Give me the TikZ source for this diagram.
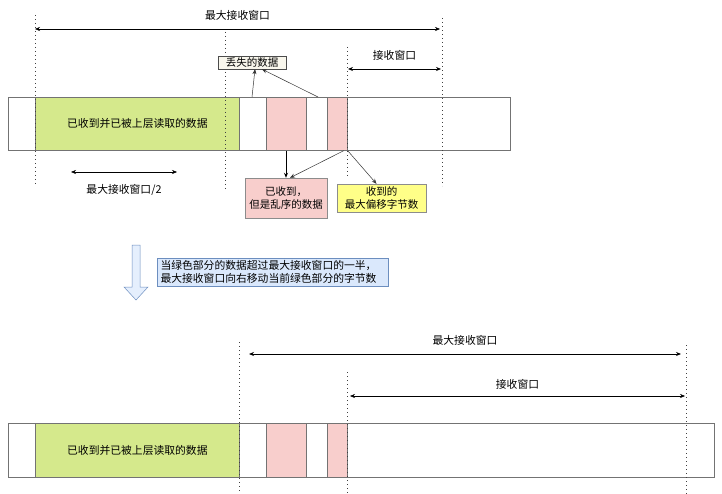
\documentclass[tikz,border=0pt]{standalone}
\usepackage{fontspec}
\setmainfont{Noto Sans CJK SC}
\usetikzlibrary{arrows.meta}

\definecolor{readgreen}{HTML}{D5E98C}
\definecolor{oooPink}{HTML}{F8CECC}
\definecolor{maxYellow}{HTML}{FFFF88}
\definecolor{noteBlue}{HTML}{DAE8FC}
\definecolor{noteEdge}{HTML}{6C8EBF}
\definecolor{lostFill}{HTML}{F9F7ED}

\tikzset{
  blk/.style={draw=black!55, anchor=north west, inner sep=0pt, line width=0.7pt},
  dotline/.style={draw=black!75, line width=1pt, dash pattern=on 0.9pt off 3.1pt},
  dimline/.style={{Stealth[length=5pt,width=4pt]}-{Stealth[length=5pt,width=4pt]}, line width=0.8pt},
  tagbox/.style={draw=black!70, inner sep=2pt, font=\fontsize{10.5}{12.5}\selectfont, align=center},
  ptr/.style={-{Stealth[length=5pt,width=4pt]}, line width=0.5pt, draw=black!80}
}

\begin{document}
\begin{tikzpicture}[x=1pt,y=-1pt, font=\fontsize{10.8}{13}\selectfont]
  \useasboundingbox (0,0) rectangle (722,494);

  % ---- before sliding ----
  % window bar and its blocks
  \node[blk, fill=white, minimum width=502pt, minimum height=53pt] (bar) at (8,97) {};
  \node[blk, fill=readgreen, minimum width=204pt, minimum height=53pt] (read) at (35,97) {};
  \node at (read.center) {已收到并已被上层读取的数据};
  \node[blk, fill=oooPink, minimum width=40pt, minimum height=53pt] (pinkA) at (266,97) {};
  \node[blk, fill=oooPink, minimum width=20pt, minimum height=53pt] (pinkB) at (327,97) {};

  % dotted borders
  \draw[dotline] (35,15) -- (35,186);
  \draw[dotline] (225,32) -- (225,190);
  \draw[dotline] (347,47) -- (347,178);
  \draw[dotline] (442,18) -- (442,186);

  % window sizes
  \coordinate (maxL) at (35,29);
  \coordinate (maxR) at (440,29);
  \draw[dimline, line width=0.5pt] (maxL) -- (maxR) node[midway, above=5pt] {最大接收窗口};
  \coordinate (rcvL) at (348,69);
  \coordinate (rcvR) at (441,69);
  \draw[dimline] (rcvL) -- (rcvR) node[midway, above=5pt] {接收窗口};
  \coordinate (halfL) at (71,172);
  \coordinate (halfR) at (177,172);
  \draw[dimline, line width=0.5pt] (halfL) -- (halfR) node[midway, below=9pt] {最大接收窗口/2};

  % notes
  \node[tagbox, fill=lostFill, inner sep=0pt, minimum width=68pt, minimum height=13pt] (lost) at (252,62.5) {丢失的数据};
  \node[tagbox, draw=black!45, fill=oooPink, minimum width=82pt, minimum height=40pt] (ooo) at (286,198) {已收到，\\但是乱序的数据};
  \node[tagbox, draw=black!45, fill=maxYellow, minimum width=89pt, minimum height=28pt] (maxoff) at (381.5,198) {收到的\\最大偏移字节数};

  \coordinate (gapA) at (252,97);
  \coordinate (gapB) at (318,97);
  \draw[ptr] (gapA) -- ([xshift=3pt]lost.south);
  \draw[ptr] (gapB) -- ([xshift=10pt]lost.south);
  \draw[ptr, line width=1pt, draw=black] (pinkA.south west -| ooo.north) -- (ooo.north);
  \draw[ptr] ([xshift=-4pt]pinkB.south east) -- ([xshift=4pt]ooo.north);
  \draw[ptr] (pinkB.south east) -- ([xshift=-5pt]maxoff.north);

  % ---- slide step ----
  \draw[draw=noteEdge, fill=noteBlue!70, line width=0.5pt]
    (132,245) -- (140,245) -- (140,287) -- (148,287) -- (136,300) -- (124,287) -- (132,287) -- cycle;
  \node[draw=noteEdge, fill=noteBlue, inner sep=2pt, anchor=north west, minimum width=231pt, minimum height=28pt, align=left] (rule) at (157,258) {};
  \node[anchor=west, align=left, font=\fontsize{10.8}{13}\selectfont] at ([xshift=0pt]rule.west) {当绿色部分的数据超过最大接收窗口的一半，\\最大接收窗口向右移动当前绿色部分的字节数};

  % ---- after sliding ----
  \node[blk, fill=white, minimum width=706pt, minimum height=54pt] (bar2) at (8,423) {};
  \node[blk, fill=readgreen, minimum width=204pt, minimum height=54pt] (read2) at (35,423) {};
  \node at (read2.center) {已收到并已被上层读取的数据};
  \node[blk, fill=oooPink, minimum width=40pt, minimum height=54pt] (pinkC) at (266,423) {};
  \node[blk, fill=oooPink, minimum width=20pt, minimum height=54pt] (pinkD) at (327,423) {};

  \draw[dotline] (239,342) -- (239,492);
  \draw[dotline] (347,372) -- (347,494);
  \draw[dotline] (686,345) -- (686,494);

  \coordinate (max2L) at (249,354);
  \coordinate (max2R) at (681,354);
  \draw[dimline] (max2L) -- (max2R) node[midway, above=5pt] {最大接收窗口};
  \coordinate (rcv2L) at (350,396);
  \coordinate (rcv2R) at (685,396);
  \draw[dimline, line width=0.5pt] (rcv2L) -- (rcv2R) node[midway, above=3pt] {接收窗口};
\end{tikzpicture}
\end{document}
